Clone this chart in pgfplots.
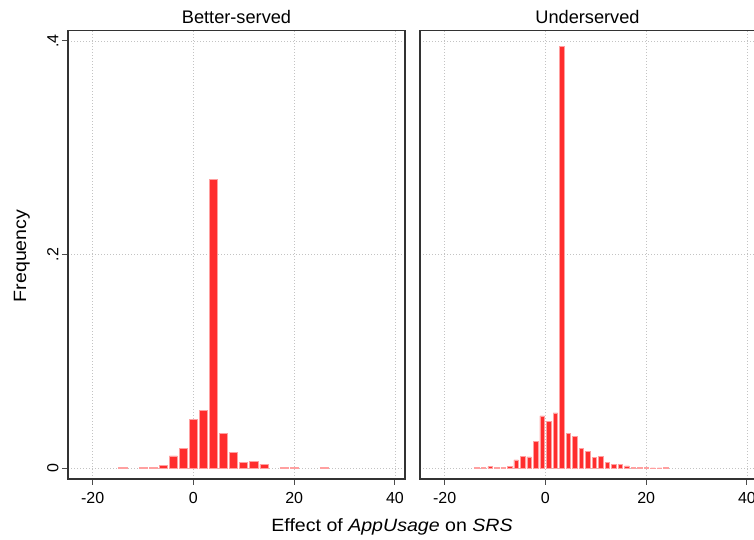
\documentclass[border=0pt]{standalone}
\usepackage{pgfplots}
\pgfplotsset{compat=1.18}
\usepackage{fontspec}
\setmainfont{Liberation Sans}
\newfontfamily\widesans[FakeStretch=1.1]{Liberation Sans}
\definecolor{barred}{RGB}{255,45,45}
\definecolor{barpink}{RGB}{255,160,160}
\definecolor{gridgray}{RGB}{195,195,195}
\pgfplotsset{
  panel/.style={
    scale only axis, width=337pt, height=448.3pt, anchor=south west,
    xmin=-24.9, xmax=42, ymin=-0.010, ymax=0.4096,
    xtick={-20,0,20,40}, xticklabels={-20,0,20,40},
    ytick={0,0.2,0.4},
    grid=major,
    major grid style={gridgray, dash pattern=on 1pt off 2pt, line width=0.8pt},
    axis line style={black!80, line width=1.2pt},
    tick align=outside, major tick length=6pt,
    tick style={black!70, line width=1pt},
    xtick pos=bottom, ytick pos=left,
    xticklabel style={font=\fontsize{16}{18}\selectfont, yshift=-4pt},
  },
  hbar/.style={ybar, fill=barred, draw=barpink, line width=0.8pt},
}
\begin{document}
\begin{tikzpicture}[x=1pt,y=1pt]
\begin{axis}[panel, at={(68pt,61pt)},
  yticklabels={0,.2,.4},
  yticklabel style={font=\fontsize{16}{18}\selectfont, rotate=90, anchor=south}]
\addplot[hbar, bar width=1.6] coordinates {
 (-14,0.0008) (-10,0.0005) (-8,0.0007) (-6,0.003) (-4,0.0116) (-2,0.0188)
 (0,0.0454) (2,0.0538) (4,0.2706) (6,0.0329) (8,0.015) (10,0.0053)
 (12,0.0066) (14,0.0038) (18,0.001) (20,0.001) (26,0.0007)};
\end{axis}
\begin{axis}[panel, at={(420pt,61pt)},
  yticklabels={}, ytick style={draw=none}]
\addplot[hbar, bar width=0.9] coordinates {
 (-13.56,0.0008) (-12.27,0.0005) (-10.97,0.0015) (-9.68,0.0008) (-8.39,0.0006) (-7.09,0.0015)
 (-5.80,0.0078) (-4.51,0.011) (-3.22,0.0106) (-1.92,0.0253) (-0.63,0.049) (0.66,0.0437)
 (1.96,0.0518) (3.25,0.395) (4.54,0.0328) (5.84,0.0297) (7.13,0.0184) (8.42,0.0159)
 (9.72,0.010) (11.01,0.011) (12.30,0.0059) (13.59,0.004) (14.89,0.004) (16.18,0.0022)
 (17.47,0.0006) (18.77,0.0004) (20.06,0.0006) (21.35,0.0003) (22.65,0.0003) (23.94,0.0008)};
\end{axis}
\node[anchor=base, font=\fontsize{18.2}{20}\selectfont] at (236.5,516) {Better-served};
\node[anchor=base, font=\fontsize{18.2}{20}\selectfont] at (587.5,516) {Underserved};
\node[anchor=base, font=\widesans\fontsize{17.8}{20}\selectfont] at (392,8.3) {Effect of \textit{AppUsage} on \textit{SRS}};
\node[anchor=base, rotate=90, font=\widesans\fontsize{17.8}{20}\selectfont] at (26,284) {Frequency};
\pgfresetboundingbox
\path[use as bounding box] (0,0) rectangle (754,540);
\end{tikzpicture}
\end{document}
